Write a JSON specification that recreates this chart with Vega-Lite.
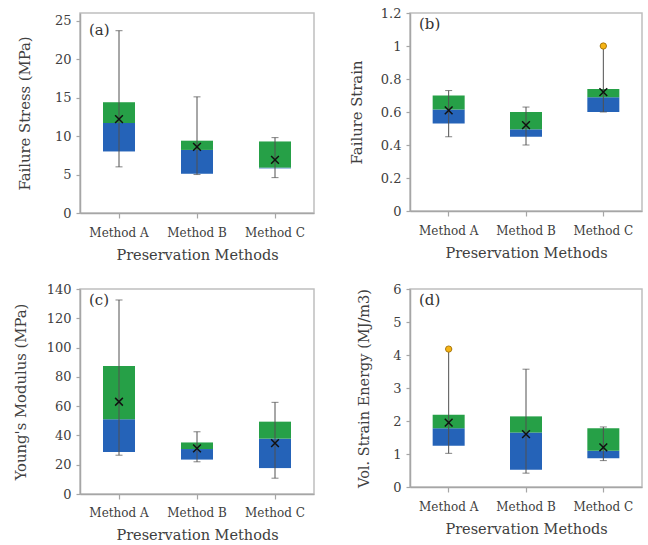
{
  "$schema": "https://vega.github.io/schema/vega-lite/v6.json",
  "background": "white",
  "padding": {"left": 12, "top": 6, "right": 2, "bottom": 2},
  "datasets": {
    "box": [
      {"panel": "a", "method": "Method A", "min": 6.0, "q1": 8.0, "median": 11.7, "q3": 14.4, "max": 23.7, "mean": 12.2, "outlier": null},
      {"panel": "a", "method": "Method B", "min": 5.0, "q1": 5.1, "median": 8.2, "q3": 9.4, "max": 15.1, "mean": 8.6, "outlier": null},
      {"panel": "a", "method": "Method C", "min": 4.6, "q1": 5.8, "median": 5.9, "q3": 9.3, "max": 9.8, "mean": 6.9, "outlier": null},
      {"panel": "b", "method": "Method A", "min": 0.45, "q1": 0.53, "median": 0.615, "q3": 0.70, "max": 0.73, "mean": 0.61, "outlier": null},
      {"panel": "b", "method": "Method B", "min": 0.40, "q1": 0.45, "median": 0.495, "q3": 0.60, "max": 0.63, "mean": 0.52, "outlier": null},
      {"panel": "b", "method": "Method C", "min": 0.60, "q1": 0.60, "median": 0.69, "q3": 0.74, "max": 1.0, "mean": 0.72, "outlier": 1.0},
      {"panel": "c", "method": "Method A", "min": 26.5, "q1": 28.7, "median": 51.0, "q3": 87.5, "max": 132.5, "mean": 63.0, "outlier": null},
      {"panel": "c", "method": "Method B", "min": 22.0, "q1": 23.5, "median": 30.7, "q3": 35.2, "max": 42.5, "mean": 31.2, "outlier": null},
      {"panel": "c", "method": "Method C", "min": 10.8, "q1": 17.7, "median": 37.8, "q3": 49.4, "max": 62.6, "mean": 34.7, "outlier": null},
      {"panel": "d", "method": "Method A", "min": 1.02, "q1": 1.25, "median": 1.78, "q3": 2.19, "max": 4.18, "mean": 1.95, "outlier": 4.18},
      {"panel": "d", "method": "Method B", "min": 0.42, "q1": 0.52, "median": 1.65, "q3": 2.14, "max": 3.57, "mean": 1.6, "outlier": null},
      {"panel": "d", "method": "Method C", "min": 0.80, "q1": 0.87, "median": 1.1, "q3": 1.78, "max": 1.82, "mean": 1.2, "outlier": null}
    ]
  },
  "config": {
    "font": "DejaVu Serif",
    "view": {"stroke": "#BFBFBF", "strokeWidth": 1.5},
    "axis": {
      "grid": false,
      "domainColor": "#A6A6A6",
      "domainWidth": 1.5,
      "tickColor": "#A6A6A6",
      "tickWidth": 1.2,
      "tickSize": 4,
      "labelFont": "DejaVu Serif",
      "labelFontSize": 12,
      "labelColor": "#404040",
      "labelOverlap": false,
      "titleFont": "DejaVu Serif",
      "titleFontSize": 14.5,
      "titleFontWeight": "normal",
      "titleColor": "#404040"
    },
    "axisY": {"labelFontSize": 13},
    "title": {"font": "DejaVu Serif", "fontSize": 15, "fontWeight": "normal", "color": "#333333", "anchor": "start", "frame": "group", "offset": -25, "dx": 9}
  },
  "columns": 2,
  "spacing": {"column": 33, "row": 19},
  "concat": [
    {
      "width": 234, "height": 200,
      "title": {"text": "(a)"},
      "data": {"name": "box"},
      "transform": [{"filter": "datum.panel == 'a'"}],
      "encoding": {
        "x": {"field": "method", "type": "nominal", "scale": {"paddingInner": 0, "paddingOuter": 0}, "axis": {"title": "Preservation Methods", "labelAngle": 0, "labelPadding": 9, "titlePadding": 10, "tickSize": 5}}
      },
      "layer": [
        {"mark": {"type": "bar", "size": 32, "color": "#2563B8"}, "encoding": {"y": {"field": "q1", "type": "quantitative", "scale": {"domain": [0, 25]}, "axis": {"title": "Failure Stress (MPa)", "values": [0, 5, 10, 15, 20, 25], "labelPadding": 5, "titlePadding": 22, "titleFontSize": 14.8}}, "y2": {"field": "median"}}},
        {"mark": {"type": "bar", "size": 32, "color": "#26A047"}, "encoding": {"y": {"field": "median", "type": "quantitative", "axis": {"title": "Failure Stress (MPa)", "values": [0, 5, 10, 15, 20, 25], "labelPadding": 5, "titlePadding": 22, "titleFontSize": 14.8}}, "y2": {"field": "q3"}}},
        {"mark": {"type": "rule", "color": "#505050", "strokeWidth": 1}, "encoding": {"y": {"field": "min", "type": "quantitative", "axis": {"title": "Failure Stress (MPa)", "values": [0, 5, 10, 15, 20, 25], "labelPadding": 5, "titlePadding": 22, "titleFontSize": 14.8}}, "y2": {"field": "max"}}},
        {"mark": {"type": "tick", "color": "#505050", "size": 7, "thickness": 1}, "encoding": {"y": {"field": "min", "type": "quantitative", "axis": {"title": "Failure Stress (MPa)", "values": [0, 5, 10, 15, 20, 25], "labelPadding": 5, "titlePadding": 22, "titleFontSize": 14.8}}}},
        {"mark": {"type": "tick", "color": "#505050", "size": 7, "thickness": 1}, "encoding": {"y": {"field": "max", "type": "quantitative", "axis": {"title": "Failure Stress (MPa)", "values": [0, 5, 10, 15, 20, 25], "labelPadding": 5, "titlePadding": 22, "titleFontSize": 14.8}}}},
        {"mark": {"type": "point", "shape": "M-1,-1L1,1M1,-1L-1,1", "filled": false, "stroke": "#111111", "strokeWidth": 1.5, "size": 60, "opacity": 1}, "encoding": {"y": {"field": "mean", "type": "quantitative", "axis": {"title": "Failure Stress (MPa)", "values": [0, 5, 10, 15, 20, 25], "labelPadding": 5, "titlePadding": 22, "titleFontSize": 14.8}}}},
        {"mark": {"type": "point", "shape": "circle", "filled": true, "fill": "#F6B415", "stroke": "#9A6A00", "strokeWidth": 0.8, "size": 40, "opacity": 1}, "encoding": {"y": {"field": "outlier", "type": "quantitative", "axis": {"title": "Failure Stress (MPa)", "values": [0, 5, 10, 15, 20, 25], "labelPadding": 5, "titlePadding": 22, "titleFontSize": 14.8}}}}
      ]
    },
    {
      "width": 232, "height": 198,
      "title": {"text": "(b)"},
      "data": {"name": "box"},
      "transform": [{"filter": "datum.panel == 'b'"}],
      "encoding": {
        "x": {"field": "method", "type": "nominal", "scale": {"paddingInner": 0, "paddingOuter": 0}, "axis": {"title": "Preservation Methods", "labelAngle": 0, "labelPadding": 9, "titlePadding": 10, "tickSize": 5}}
      },
      "layer": [
        {"mark": {"type": "bar", "size": 32, "color": "#2563B8"}, "encoding": {"y": {"field": "q1", "type": "quantitative", "scale": {"domain": [0, 1.2]}, "axis": {"title": "Failure Strain", "values": [0, 0.2, 0.4, 0.6, 0.8, 1, 1.2], "format": ".1~f", "labelPadding": 5, "titlePadding": 16, "titleFontSize": 14.8}}, "y2": {"field": "median"}}},
        {"mark": {"type": "bar", "size": 32, "color": "#26A047"}, "encoding": {"y": {"field": "median", "type": "quantitative", "axis": {"title": "Failure Strain", "values": [0, 0.2, 0.4, 0.6, 0.8, 1, 1.2], "format": ".1~f", "labelPadding": 5, "titlePadding": 16, "titleFontSize": 14.8}}, "y2": {"field": "q3"}}},
        {"mark": {"type": "rule", "color": "#505050", "strokeWidth": 1}, "encoding": {"y": {"field": "min", "type": "quantitative", "axis": {"title": "Failure Strain", "values": [0, 0.2, 0.4, 0.6, 0.8, 1, 1.2], "format": ".1~f", "labelPadding": 5, "titlePadding": 16, "titleFontSize": 14.8}}, "y2": {"field": "max"}}},
        {"mark": {"type": "tick", "color": "#505050", "size": 7, "thickness": 1}, "encoding": {"y": {"field": "min", "type": "quantitative", "axis": {"title": "Failure Strain", "values": [0, 0.2, 0.4, 0.6, 0.8, 1, 1.2], "format": ".1~f", "labelPadding": 5, "titlePadding": 16, "titleFontSize": 14.8}}}},
        {"mark": {"type": "tick", "color": "#505050", "size": 7, "thickness": 1}, "encoding": {"y": {"field": "max", "type": "quantitative", "axis": {"title": "Failure Strain", "values": [0, 0.2, 0.4, 0.6, 0.8, 1, 1.2], "format": ".1~f", "labelPadding": 5, "titlePadding": 16, "titleFontSize": 14.8}}}},
        {"mark": {"type": "point", "shape": "M-1,-1L1,1M1,-1L-1,1", "filled": false, "stroke": "#111111", "strokeWidth": 1.5, "size": 60, "opacity": 1}, "encoding": {"y": {"field": "mean", "type": "quantitative", "axis": {"title": "Failure Strain", "values": [0, 0.2, 0.4, 0.6, 0.8, 1, 1.2], "format": ".1~f", "labelPadding": 5, "titlePadding": 16, "titleFontSize": 14.8}}}},
        {"mark": {"type": "point", "shape": "circle", "filled": true, "fill": "#F6B415", "stroke": "#9A6A00", "strokeWidth": 0.8, "size": 40, "opacity": 1}, "encoding": {"y": {"field": "outlier", "type": "quantitative", "axis": {"title": "Failure Strain", "values": [0, 0.2, 0.4, 0.6, 0.8, 1, 1.2], "format": ".1~f", "labelPadding": 5, "titlePadding": 16, "titleFontSize": 14.8}}}}
      ]
    },
    {
      "width": 234, "height": 205,
      "title": {"text": "(c)"},
      "data": {"name": "box"},
      "transform": [{"filter": "datum.panel == 'c'"}],
      "encoding": {
        "x": {"field": "method", "type": "nominal", "scale": {"paddingInner": 0, "paddingOuter": 0}, "axis": {"title": "Preservation Methods", "labelAngle": 0, "labelPadding": 8, "titlePadding": 10, "tickSize": 5}}
      },
      "layer": [
        {"mark": {"type": "bar", "size": 32, "color": "#2563B8"}, "encoding": {"y": {"field": "q1", "type": "quantitative", "scale": {"domain": [0, 140]}, "axis": {"title": "Young's Modulus (MPa)", "values": [0, 20, 40, 60, 80, 100, 120, 140], "labelPadding": 5, "titlePadding": 18, "titleFontSize": 14.8}}, "y2": {"field": "median"}}},
        {"mark": {"type": "bar", "size": 32, "color": "#26A047"}, "encoding": {"y": {"field": "median", "type": "quantitative", "axis": {"title": "Young's Modulus (MPa)", "values": [0, 20, 40, 60, 80, 100, 120, 140], "labelPadding": 5, "titlePadding": 18, "titleFontSize": 14.8}}, "y2": {"field": "q3"}}},
        {"mark": {"type": "rule", "color": "#505050", "strokeWidth": 1}, "encoding": {"y": {"field": "min", "type": "quantitative", "axis": {"title": "Young's Modulus (MPa)", "values": [0, 20, 40, 60, 80, 100, 120, 140], "labelPadding": 5, "titlePadding": 18, "titleFontSize": 14.8}}, "y2": {"field": "max"}}},
        {"mark": {"type": "tick", "color": "#505050", "size": 7, "thickness": 1}, "encoding": {"y": {"field": "min", "type": "quantitative", "axis": {"title": "Young's Modulus (MPa)", "values": [0, 20, 40, 60, 80, 100, 120, 140], "labelPadding": 5, "titlePadding": 18, "titleFontSize": 14.8}}}},
        {"mark": {"type": "tick", "color": "#505050", "size": 7, "thickness": 1}, "encoding": {"y": {"field": "max", "type": "quantitative", "axis": {"title": "Young's Modulus (MPa)", "values": [0, 20, 40, 60, 80, 100, 120, 140], "labelPadding": 5, "titlePadding": 18, "titleFontSize": 14.8}}}},
        {"mark": {"type": "point", "shape": "M-1,-1L1,1M1,-1L-1,1", "filled": false, "stroke": "#111111", "strokeWidth": 1.5, "size": 60, "opacity": 1}, "encoding": {"y": {"field": "mean", "type": "quantitative", "axis": {"title": "Young's Modulus (MPa)", "values": [0, 20, 40, 60, 80, 100, 120, 140], "labelPadding": 5, "titlePadding": 18, "titleFontSize": 14.8}}}},
        {"mark": {"type": "point", "shape": "circle", "filled": true, "fill": "#F6B415", "stroke": "#9A6A00", "strokeWidth": 0.8, "size": 40, "opacity": 1}, "encoding": {"y": {"field": "outlier", "type": "quantitative", "axis": {"title": "Young's Modulus (MPa)", "values": [0, 20, 40, 60, 80, 100, 120, 140], "labelPadding": 5, "titlePadding": 18, "titleFontSize": 14.8}}}}
      ]
    },
    {
      "width": 232, "height": 198,
      "title": {"text": "(d)"},
      "data": {"name": "box"},
      "transform": [{"filter": "datum.panel == 'd'"}],
      "encoding": {
        "x": {"field": "method", "type": "nominal", "scale": {"paddingInner": 0, "paddingOuter": 0}, "axis": {"title": "Preservation Methods", "labelAngle": 0, "labelPadding": 9, "titlePadding": 10, "tickSize": 5}}
      },
      "layer": [
        {"mark": {"type": "bar", "size": 32, "color": "#2563B8"}, "encoding": {"y": {"field": "q1", "type": "quantitative", "scale": {"domain": [0, 6]}, "axis": {"title": "Vol. Strain Energy (MJ/m3)", "values": [0, 1, 2, 3, 4, 5, 6], "labelPadding": 5, "titlePadding": 21, "titleFontSize": 14.5}}, "y2": {"field": "median"}}},
        {"mark": {"type": "bar", "size": 32, "color": "#26A047"}, "encoding": {"y": {"field": "median", "type": "quantitative", "axis": {"title": "Vol. Strain Energy (MJ/m3)", "values": [0, 1, 2, 3, 4, 5, 6], "labelPadding": 5, "titlePadding": 21, "titleFontSize": 14.5}}, "y2": {"field": "q3"}}},
        {"mark": {"type": "rule", "color": "#505050", "strokeWidth": 1}, "encoding": {"y": {"field": "min", "type": "quantitative", "axis": {"title": "Vol. Strain Energy (MJ/m3)", "values": [0, 1, 2, 3, 4, 5, 6], "labelPadding": 5, "titlePadding": 21, "titleFontSize": 14.5}}, "y2": {"field": "max"}}},
        {"mark": {"type": "tick", "color": "#505050", "size": 7, "thickness": 1}, "encoding": {"y": {"field": "min", "type": "quantitative", "axis": {"title": "Vol. Strain Energy (MJ/m3)", "values": [0, 1, 2, 3, 4, 5, 6], "labelPadding": 5, "titlePadding": 21, "titleFontSize": 14.5}}}},
        {"mark": {"type": "tick", "color": "#505050", "size": 7, "thickness": 1}, "encoding": {"y": {"field": "max", "type": "quantitative", "axis": {"title": "Vol. Strain Energy (MJ/m3)", "values": [0, 1, 2, 3, 4, 5, 6], "labelPadding": 5, "titlePadding": 21, "titleFontSize": 14.5}}}},
        {"mark": {"type": "point", "shape": "M-1,-1L1,1M1,-1L-1,1", "filled": false, "stroke": "#111111", "strokeWidth": 1.5, "size": 60, "opacity": 1}, "encoding": {"y": {"field": "mean", "type": "quantitative", "axis": {"title": "Vol. Strain Energy (MJ/m3)", "values": [0, 1, 2, 3, 4, 5, 6], "labelPadding": 5, "titlePadding": 21, "titleFontSize": 14.5}}}},
        {"mark": {"type": "point", "shape": "circle", "filled": true, "fill": "#F6B415", "stroke": "#9A6A00", "strokeWidth": 0.8, "size": 40, "opacity": 1}, "encoding": {"y": {"field": "outlier", "type": "quantitative", "axis": {"title": "Vol. Strain Energy (MJ/m3)", "values": [0, 1, 2, 3, 4, 5, 6], "labelPadding": 5, "titlePadding": 21, "titleFontSize": 14.5}}}}
      ]
    }
  ]
}
